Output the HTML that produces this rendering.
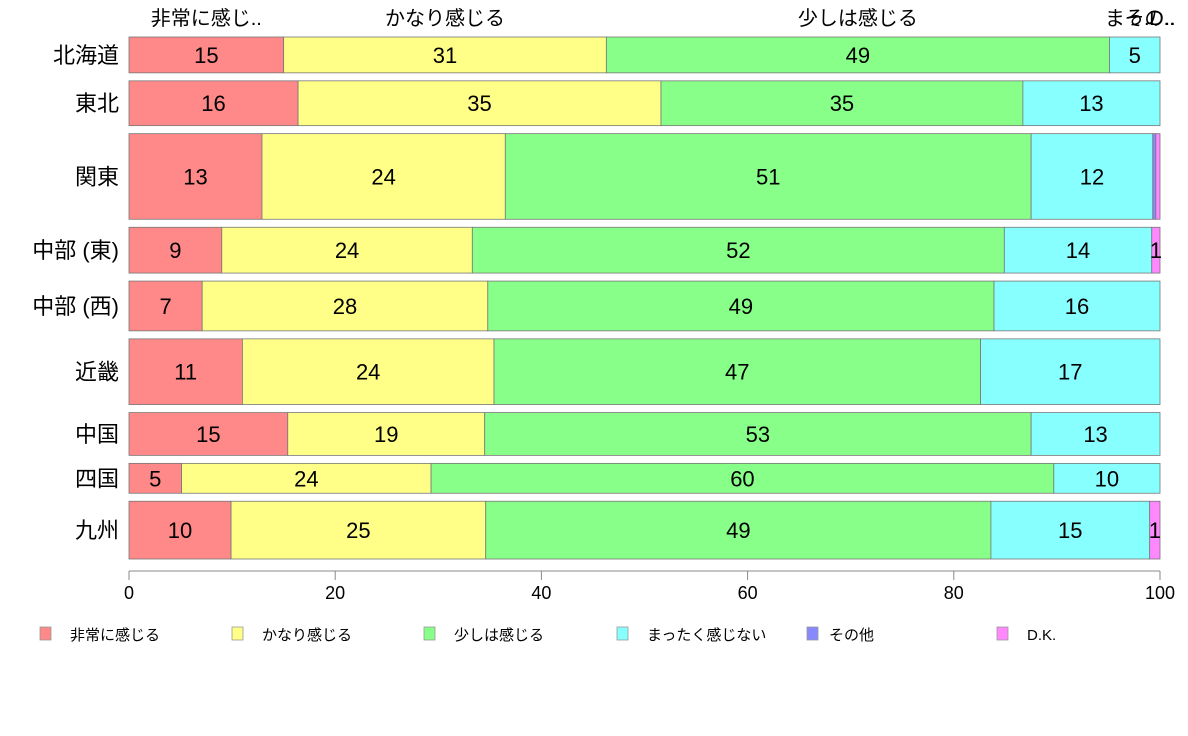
<!DOCTYPE html>
<html><head><meta charset="utf-8"><style>
html,body{margin:0;padding:0;background:#fff;}
svg{display:block;font-family:"Liberation Sans","Noto Sans CJK JP",sans-serif;}
</style></head><body>
<svg id="chart" width="1188" height="736" viewBox="0 0 1188 736"></svg>
<script>
const categories = ["北海道","東北","関東","中部 (東)","中部 (西)","近畿","中国","四国","九州"];
const seriesNames = ["非常に感じる","かなり感じる","少しは感じる","まったく感じない","その他","D.K."];
const topLabels = ["非常に感じ..","かなり感じる","少しは感じる","まっ..","その..","D.."];
const sVery = [15.0,16.4,12.9,9.0,7.1,11.0,15.4,5.1,9.9];
const sFairly = [31.3,35.2,23.6,24.3,27.7,24.4,19.1,24.2,24.7];
const sLittle = [48.8,35.1,51.0,51.6,49.1,47.2,53.0,60.4,49.0];
const sNone = [4.9,13.3,11.8,14.3,16.1,17.4,12.5,10.3,15.4];
const sOther = [0,0,0.3,0,0,0,0,0,0];
const sDK = [0,0,0.4,0.8,0,0,0,0,1.0];
const sampleSizes = [36,45,86,46,50,66,43,30,58];
const xTicks = [0,20,40,60,80,100];

const colors = ["#ff8888","#ffff88","#88ff88","#88ffff","#8888ff","#ff88ff"];
const series = [sVery,sFairly,sLittle,sNone,sOther,sDK];
const NS="http://www.w3.org/2000/svg";
const svg=document.getElementById('chart');
const x0=129,x1=1160,yTop=37,yBot=559,gap=8;
const xs=v=>x0+(x1-x0)*v/100;
const totalN=sampleSizes.reduce((a,b)=>a+b,0);
const avail=(yBot-yTop)-gap*(categories.length-1);
function mk(tag,attrs,txt){const e=document.createElementNS(NS,tag);for(const k in attrs)e.setAttribute(k,attrs[k]);if(txt!==undefined)e.textContent=txt;svg.appendChild(e);return e;}
let y=yTop;
const firstRow=[];
categories.forEach((cat,i)=>{
  const h=avail*sampleSizes[i]/totalN;
  let cum=0;
  series.forEach((s,j)=>{
    const v=s[i];
    if(v<=0){cum+=v;return;}
    const r=mk('rect',{x:xs(cum),y:y,width:xs(cum+v)-xs(cum),height:h,fill:colors[j],stroke:'#777','stroke-width':0.8});
    
    
    const rv=Math.round(v);
    if(rv>=1){
      const t=mk('text',{x:(xs(cum)+xs(cum+v))/2,y:y+h/2+8,'text-anchor':'middle','font-size':22,fill:'#000'},rv);
      
      
    }
    if(i===0)firstRow.push((xs(cum)+xs(cum+v))/2);
    cum+=v;
  });
  const c=mk('text',{x:119,y:y+h/2+8,'text-anchor':'end','font-size':22,fill:'#000'},cat);
  
  
  y+=h+gap;
});
const topX=[firstRow[0],firstRow[1],firstRow[2],1130,1150,1162];
topLabels.forEach((l,j)=>{
  const t=mk('text',{x:topX[j],y:25,'text-anchor':'middle','font-size':20,fill:'#000'},l);
  
  
});
const ax=mk('line',{x1:x0,x2:x1,y1:571,y2:571,stroke:'#888','stroke-width':1});


xTicks.forEach(v=>{
  const tk=mk('line',{x1:xs(v),x2:xs(v),y1:571,y2:580,stroke:'#888','stroke-width':1});
  
  
  const t=mk('text',{x:xs(v),y:599,'text-anchor':'middle','font-size':18,fill:'#000'},v);
  
  
});
const legX=[40,232,424,617,807,997];
seriesNames.forEach((n,j)=>{
  const r=mk('rect',{x:legX[j],y:627,width:11,height:13,fill:colors[j],stroke:'#999','stroke-width':0.8});
  
  
  const t=mk('text',{x:legX[j]+(j===4?22:30),y:640,'font-size':15,fill:'#000'},n);
  
  
});
</script>
</body></html>
